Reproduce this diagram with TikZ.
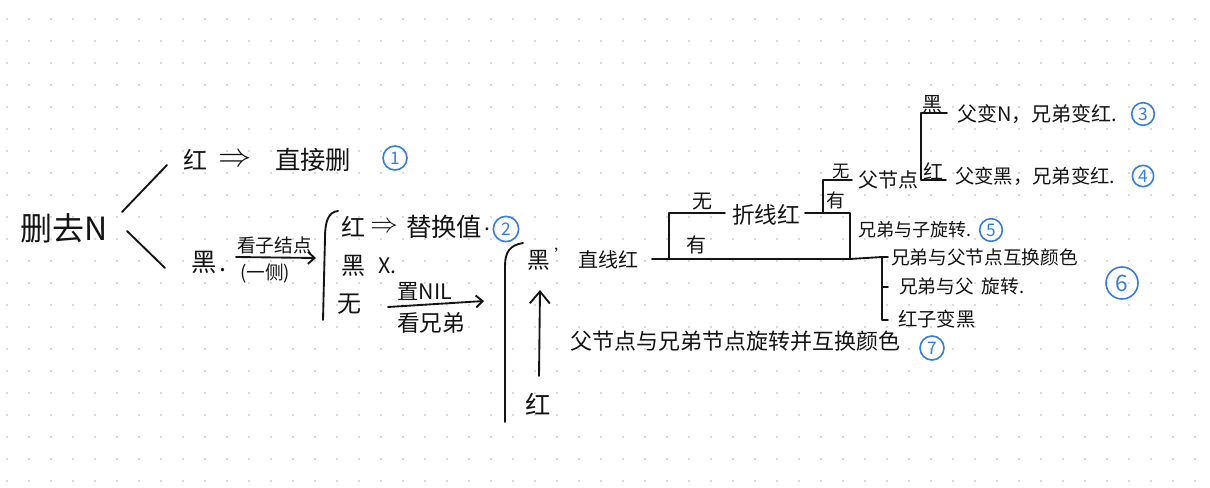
\documentclass[tikz,border=0pt]{standalone}
\usepackage{fontspec}
\setmainfont{Noto Sans CJK SC}
\usetikzlibrary{arrows.meta}
\definecolor{ink}{RGB}{20,20,20}
\definecolor{pen}{RGB}{55,125,225}
\definecolor{dotc}{RGB}{205,205,205}
\tikzset{
  t/.style={font=\fontsize{#1pt}{#1pt}\selectfont, text=ink, inner sep=0pt, anchor=west},
  ln/.style={draw=ink, line width=1.4pt, line cap=round, line join=round},
  num/.style={circle, draw=pen, text=pen, line width=1.2pt, inner sep=0pt, minimum size=#1pt, font=\fontsize{13pt}{13pt}\selectfont},
  barb/.style={-{Straight Barb[length=5pt,width=9pt]}},
}
\begin{document}
\begin{tikzpicture}[x=0.75pt,y=-0.75pt]
\useasboundingbox (0,0) rectangle (1210,488);
\fill[white] (0,0) rectangle (1210,488);
\foreach \i in {0,...,54} \foreach \j in {0,...,21} \fill[dotc] ({7+22*\i},{19+22*\j}) circle (1.1);

% root
\node[t=24] (root) at (20,228) {删去N};
\coordinate (s1) at (122,212); \coordinate (e1) at (167,165);
\coordinate (s2) at (127,231); \coordinate (e2) at (165,268);
\draw[ln] (s1) -- (e1);
\draw[ln] (s2) -- (e2);

% red branch
\node[t=18] (r1) at (183,160) {红};
\node[t=24] (r1a) at (218,160) {$\Rightarrow$};
\node[t=19] (r1b) at (275,160) {直接删};
\node[num=18] (c1) at (395,158) {1};

% black branch
\node[t=19] (b) at (191,262) {黑\hspace{2pt}.};
\node[t=14] (kz) at (237,245) {看子结点};
\coordinate (kz0) at (236,257); \coordinate (kz1) at (316,258);
\draw[ln, barb] (kz0) -- (kz1);
\node[t=14] (ys) at (240,273) {(一侧)};

% brace 1
\draw[ln] (338,211) .. controls (328,212) and (325,222) .. (325,238) -- (323,320);

\node[t=18] (r2) at (341,227) {红};
\node[t=22] (r2a) at (370,227) {$\Rightarrow$};
\node[t=19] (r2b) at (406,227) {替换值};
\node[t=16] (r2d) at (484,229) {.};
\node[num=19] (c2) at (506,229) {2};

\node[t=18] (b2) at (341,266) {黑};
\node[t=16] (x2) at (378,266) {X.};

\node[t=18] (w2) at (337,304) {无};
\coordinate (nl0) at (388,307); \coordinate (nl1) at (484,301);
\draw[ln, barb] (nl0) -- (nl1);
\node[t=16] (nil) at (397,291) {置NIL};
\node[t=17] (kx) at (397,323) {看兄弟};

% brace 2
\draw[ln] (523,243) .. controls (510,245) and (505,252) .. (505,266) -- (505,422);

\node[t=17] (b3) at (527,260) {黑};
\node[t=12] (tk) at (554,255) {'};
\node[t=15] (zx) at (578,260) {直线红};
\coordinate (up0) at (539,376); \coordinate (up1) at (540,290);
\draw[ln, -{Straight Barb[length=9pt,width=15pt]}] (up0) -- (up1);
\node[t=19] (h3) at (525,404) {红};

% main line
\coordinate (m0) at (652,259); \coordinate (m1) at (669,259);
\coordinate (m2) at (850,259); \coordinate (m3) at (882,257);
\draw[ln] (m0) -- (m2) -- (m3);
\coordinate (p1) at (725,213);
\draw[ln] (m1) |- (p1);
\node[t=15] (w3) at (692,202) {无};
\node[t=15] (y3) at (686,245) {有};
\node[t=17] (zh) at (732,215) {折线红};
\coordinate (p2) at (805,213);
\draw[ln] (p2) -| (m2);
\coordinate (q0) at (823,213); \coordinate (q1) at (852,180);
\draw[ln] (q0) |- (q1);
\node[t=13] (w4) at (832,171) {无};
\node[t=14] (y4) at (826,200) {有};
\node[t=15] (fj) at (858,180) {父节点};

\coordinate (u0) at (947,113); \coordinate (u1) at (921,113);
\coordinate (u2) at (921,180); \coordinate (u3) at (946,180);
\draw[ln] (u0) -- (u1) -- (u2) -- (u3);
\node[t=15] (hb) at (922,104) {黑};
\node[t=15] (hr) at (923,171) {红};

\node[t=15] (t3) at (957,114) {父变N，兄弟变红.};
\node[num=17] (c3) at (1143,114) {3};
\node[t=14.5] (t4) at (955,176) {父变黑，兄弟变红.};
\node[num=16] (c4) at (1143,176) {4};

\node[t=13.5] (t5) at (858,230) {兄弟与子旋转.};
\node[num=17] (c5) at (991,230) {5};

\coordinate (v1) at (882,287); \coordinate (v2) at (882,320);
\draw[ln] (m3) -- (v2) -- ++(6,0);
\draw[ln] (v1) -- ++(6,0);
\draw[ln] (m3) -- ++(6,0);
\node[t=14] (t6a) at (891,257) {兄弟与父节点互换颜色};
\node[t=14] (t6b) at (899,286) {兄弟与父\hspace{6pt}旋转.};
\node[t=14.5] (t6c) at (898,319) {红子变黑};
\node[num=24, font=\fontsize{17pt}{17pt}\selectfont] (c6) at (1122,283) {6};

\node[t=16.5] (t7) at (570,341) {父节点与兄弟节点旋转并互换颜色};
\node[num=18] (c7) at (932,348) {7};
\end{tikzpicture}
\end{document}
